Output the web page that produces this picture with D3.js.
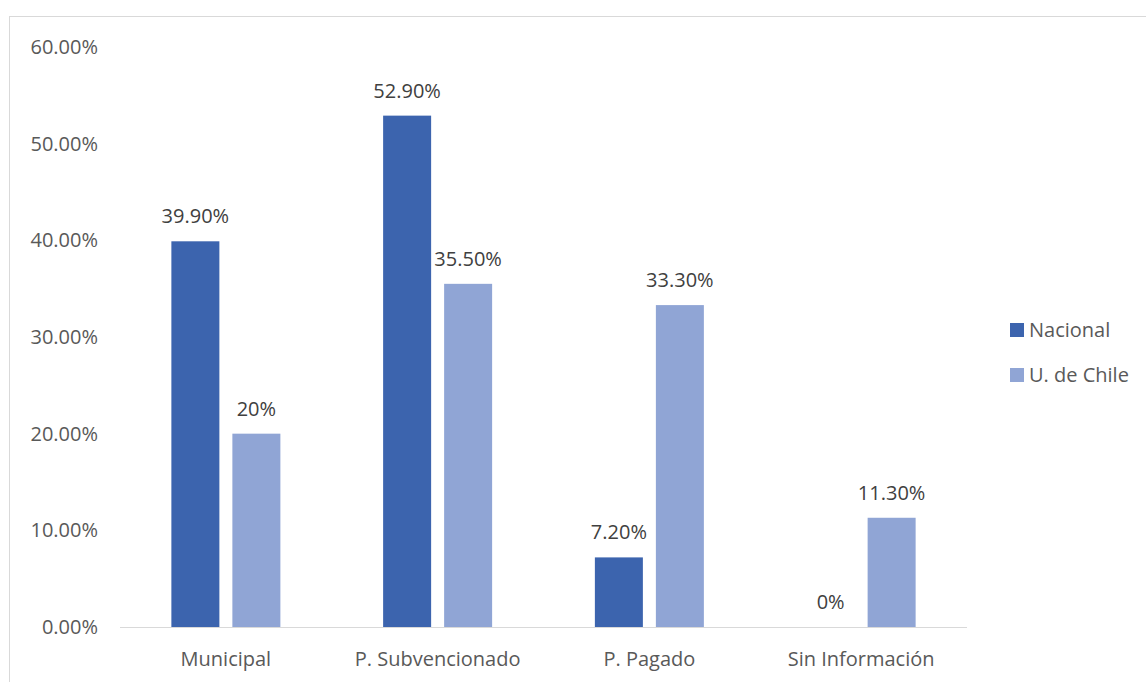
<!DOCTYPE html>
<html><head><meta charset="utf-8">
<script src="https://cdn.jsdelivr.net/npm/d3@7"></script>
<style>body{margin:0;background:#fff;} text{font-family:"Open Sans",sans-serif;}</style>
</head><body>
<svg id="c" width="1146" height="682"></svg>
<script>
const categories = ["Municipal", "P. Subvencionado", "P. Pagado", "Sin Información"];
const seriesNames = ["Nacional", "U. de Chile"];
const nacional = [39.9, 52.9, 7.2, 0];
const uchile = [20, 35.5, 33.3, 11.3];
const nacionalLabels = ["39.90%", "52.90%", "7.20%", "0%"];
const uchileLabels = ["20%", "35.50%", "33.30%", "11.30%"];
const yTicks = [0, 10, 20, 30, 40, 50, 60];
const yTickLabels = ["0.00%", "10.00%", "20.00%", "30.00%", "40.00%", "50.00%", "60.00%"];
const colors = ["#3c64ae", "#90a5d5"];

const svg = d3.select("#c");
svg.append("rect").attr("x", 9.5).attr("y", 16.5).attr("width", 1200).attr("height", 700)
  .attr("fill", "#fff").attr("stroke", "#d9d9d9").attr("stroke-width", 1);

const x = d3.scaleBand().domain(categories).range([120, 967]);
const y = d3.scaleLinear().domain([0, 60]).range([627, 47]);
const barW = 48, gap = 13;
const fs = 20;

// y tick labels
svg.append("g").selectAll("text").data(yTicks).join("text")
  .attr("x", 98).attr("y", d => y(d)).attr("dy", "0.35em")
  .attr("text-anchor", "end").attr("font-size", fs).attr("fill", "#595959")
  .text((d, i) => yTickLabels[i]);

// baseline
svg.append("line").attr("x1", 120).attr("x2", 967).attr("y1", y(0) + 0.5).attr("y2", y(0) + 0.5)
  .attr("stroke", "#d9d9d9").attr("stroke-width", 1);

const series = [
  {vals: nacional, labels: nacionalLabels, off: -gap / 2 - barW},
  {vals: uchile, labels: uchileLabels, off: gap / 2}
];
series.forEach((s, si) => {
  const g = svg.append("g");
  g.selectAll("rect").data(categories).join("rect")
    .attr("x", (c) => x(c) + x.bandwidth() / 2 + s.off)
    .attr("width", barW)
    .attr("y", (c, i) => y(s.vals[i]))
    .attr("height", (c, i) => y(0) - y(s.vals[i]))
    .attr("fill", colors[si]);
  g.selectAll("text").data(categories).join("text")
    .attr("x", (c) => x(c) + x.bandwidth() / 2 + s.off + barW / 2)
    .attr("y", (c, i) => y(s.vals[i]) - 25)
    .attr("dy", "0.35em")
    .attr("text-anchor", "middle").attr("font-size", fs).attr("fill", "#404040")
    .text((c, i) => s.labels[i]);
});

// x labels
svg.append("g").selectAll("text").data(categories).join("text")
  .attr("x", c => x(c) + x.bandwidth() / 2).attr("y", 659).attr("dy", "0.35em")
  .attr("text-anchor", "middle").attr("font-size", fs).attr("fill", "#595959")
  .text(c => c);

// legend
const lg = svg.append("g");
seriesNames.forEach((n, i) => {
  lg.append("rect").attr("x", 1010).attr("y", 323 + i * 45).attr("width", 14).attr("height", 14).attr("fill", colors[i]);
  lg.append("text").attr("x", 1029).attr("y", 330 + i * 45).attr("dy", "0.35em")
    .attr("font-size", fs).attr("fill", "#595959").text(n);
});
</script>
</body></html>
